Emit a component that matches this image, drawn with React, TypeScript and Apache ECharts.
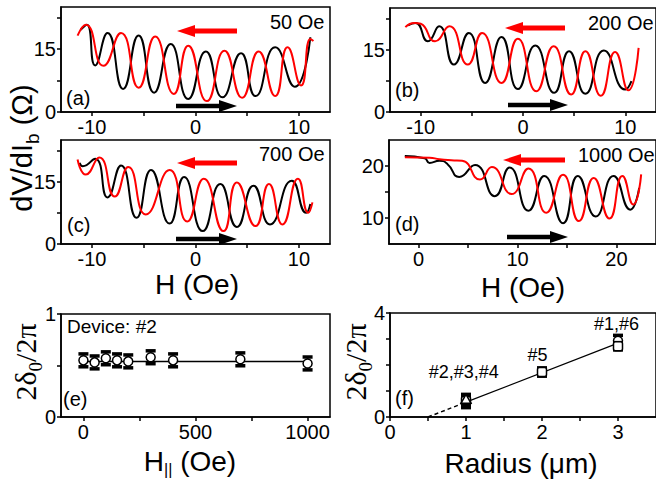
import React, { useEffect, useRef } from "react";
import * as echarts from "echarts";

const FONT = '"Liberation Sans", Arial, Helvetica, sans-serif';
const SERIF = '"Liberation Serif", "Times New Roman", serif';

// ---------- panel (a) 50 Oe ----------
const aBlack: [number, number][] = [
  [-11.1, 19.6], [-10.5, 20.8], [-9.7, 11.1], [-8.5, 18.8], [-7.0, 5.5], [-5.5, 18.2],
  [-4.0, 4.6], [-2.4, 16.2], [-0.7, 3.1], [1.0, 14.4], [2.6, 3.5], [4.4, 14.0],
  [5.8, 3.8], [7.7, 15.4], [9.6, 6.0], [11.1, 17.8],
];
const aRed: [number, number][] = [
  [-11.4, 18.2], [-10.6, 20.8], [-8.9, 11.0], [-7.2, 18.8], [-5.5, 5.8], [-3.9, 18.0],
  [-2.1, 4.3], [-0.7, 15.8], [1.1, 2.6], [2.8, 14.6], [4.5, 3.4], [6.1, 14.4],
  [7.7, 3.8], [8.9, 15.4], [10.2, 6.3], [11.1, 17.4], [11.4, 16.9],
];
// ---------- panel (b) 200 Oe ----------
const bBlack: [number, number][] = [
  [-11.25, 20.8], [-10.5, 21.4], [-9.3, 17.0], [-8.2, 20.6], [-6.75, 11.4], [-5.3, 19.0],
  [-3.7, 7.0], [-2.1, 18.0], [-0.5, 5.5], [1.2, 16.0], [3.05, 4.6], [4.5, 14.6],
  [6.1, 4.4], [7.9, 14.8], [10.0, 5.4], [10.6, 7.4],
];
const bRed: [number, number][] = [
  [-11.5, 20.4], [-10.6, 21.4], [-10.0, 21.2], [-8.6, 17.0], [-7.2, 20.6], [-5.4, 11.4],
  [-4.0, 19.0], [-2.1, 7.0], [-0.5, 17.6], [1.3, 5.0], [3.0, 15.8], [4.7, 4.2],
  [6.1, 14.6], [7.6, 3.9], [9.0, 14.4], [10.3, 5.2], [11.3, 15.4],
];
// ---------- panel (c) 700 Oe ----------
const cBlack: [number, number][] = [
  [-11.2, 19.5], [-10.9, 18.7], [-9.7, 20.5], [-8.5, 11.2], [-7.2, 18.9], [-5.7, 6.3],
  [-4.3, 17.8], [-2.5, 4.9], [-1.1, 16.1], [0.7, 3.1], [2.4, 14.4], [4.0, 4.1],
  [5.6, 14.0], [7.2, 4.7], [9.3, 15.2], [10.7, 7.5], [11.1, 9.6],
];
const cRed: [number, number][] = [
  [-11.4, 20.3], [-10.6, 16.7], [-9.3, 20.8], [-7.8, 11.4], [-6.5, 18.5], [-4.8, 7.1],
  [-2.5, 17.8], [-0.8, 5.4], [0.8, 15.7], [2.7, 3.1], [4.0, 14.8], [5.8, 4.3],
  [7.1, 14.4], [8.4, 4.7], [9.9, 15.7], [10.9, 7.5], [11.3, 10.0],
];
// ---------- panel (d) 1000 Oe ----------
const dBlack: [number, number][] = [
  [-1.4, 21.9], [0.6, 21.5], [1.1, 20.6], [2.1, 21.0], [2.9, 20.4], [4.1, 17.9],
  [5.7, 20.2], [7.7, 14.2], [9.2, 19.7], [11.1, 11.4], [12.7, 18.1], [14.6, 9.0],
  [16.1, 18.1], [17.9, 10.3], [19.7, 18.1], [21.4, 11.6], [22.3, 15.8],
];
const dRed: [number, number][] = [
  [-1.4, 21.7], [1.1, 21.6], [2.1, 21.3], [3.3, 21.1], [4.4, 21.0], [6.2, 17.4],
  [7.4, 19.8], [9.4, 14.6], [11.1, 19.5], [12.9, 11.0], [14.6, 18.3], [16.2, 9.4],
  [17.7, 17.7], [19.3, 9.9], [20.6, 18.1], [21.7, 12.6], [22.5, 18.4],
];
// ---------- panel (e) ----------
const eField = [0, 50, 100, 150, 200, 300, 400, 700, 1000];
const ePhase = [0.55, 0.53, 0.57, 0.55, 0.54, 0.58, 0.55, 0.56, 0.52];
const eErr = [0.065, 0.065, 0.065, 0.065, 0.065, 0.065, 0.065, 0.065, 0.065];
const eFit: [number, number][] = [[0, 0.54], [1000, 0.54]];
// ---------- panel (f) ----------
const fRadius = [1, 1, 1, 2, 3, 3];
const fPhase = [0.55, 0.62, 0.68, 1.73, 2.93, 2.72];
const fErr = [0.2, 0.2, 0.2, 0.17, 0.22, 0.15];
const fSymbol = ["circle", "rect", "triangle", "rect", "circle", "rect"];
const fFitDashed: [number, number][] = [[0.5, 0], [1, 0.57]];
const fFitSolid: [number, number][] = [[1, 0.57], [3, 2.84]];
const fNotes = ["#2,#3,#4", "#5", "#1,#6"];
const fNoteX = [0.97, 1.94, 2.98];
const fNoteY = [1.73, 2.4, 3.57];

// ---------- ticks ----------
const hTicks = [-10, -5, 0, 5, 10];
const hLabels = [-10, 0, 10];
const dTicks = [0, 5, 10, 15, 20];
const dLabels = [0, 10, 20];
const vTicks = [0, 7.5, 15, 22.5];
const vLabels = [0, 15];
const dvTicks = [10, 15, 20];
const dvLabels = [10, 20];
const eTicks = [0, 250, 500, 750, 1000];
const eLabels = [0, 500, 1000];
const eyTicks = [0, 0.5, 1];
const eyLabels = [0, 1];
const fTicks = [0, 0.5, 1, 1.5, 2, 2.5, 3];
const fLabels = [0, 1, 2, 3];
const fyTicks = [0, 1, 2, 3, 4];
const fyLabels = [0, 4];

const fieldTexts = ["50 Oe", "200 Oe", "700 Oe", "1000 Oe"];
const panelTags = ["(a)", "(b)", "(c)", "(d)", "(e)", "(f)"];

function axis(gridIndex: number, min: number, max: number, ticks: number[], labels: number[]) {
  return {
    type: "value",
    gridIndex,
    min,
    max,
    axisLine: { show: true, onZero: false, lineStyle: { color: "#000", width: 1.5 } },
    axisTick: { show: true, customValues: ticks, length: 4, lineStyle: { color: "#000", width: 1.5 } },
    axisLabel: {
      customValues: labels, color: "#000", fontSize: 20, fontFamily: FONT, margin: 5,
      formatter: (v: number) => String(v),
    },
    splitLine: { show: false },
  };
}

function curve(idx: number, data: [number, number][], color: string) {
  return {
    type: "line",
    xAxisIndex: idx,
    yAxisIndex: idx,
    data,
    showSymbol: false,
    smooth: 0.55,
    lineStyle: { color, width: 2 },
    itemStyle: { color },
    z: color === "#000" ? 2 : 3,
  };
}

function arrow(x1: number, x2: number, y: number, color: string, w: number) {
  const dir = x2 > x1 ? 1 : -1;
  const hl = 18;
  return {
    type: "group",
    children: [
      { type: "line", shape: { x1, y1: y, x2: x2 - dir * hl + dir * 2, y2: y }, style: { stroke: color, lineWidth: w } },
      { type: "polygon", shape: { points: [[x2, y], [x2 - dir * hl, y - 6], [x2 - dir * hl, y + 6]] }, style: { fill: color } },
    ],
  };
}

function txt(x: number, y: number, text: string, size: number, align = "left", extra: any = {}) {
  return {
    type: "text",
    x,
    y,
    ...extra,
    style: {
      text,
      fontSize: size,
      fontFamily: FONT,
      fill: "#000",
      align,
      verticalAlign: "middle",
      textAlign: align,
      textVerticalAlign: "middle",
      ...(extra.style || {}),
    },
  };
}

function errRender(symbols: string[] | null) {
  return (params: any, api: any) => {
    const x = api.value(0);
    const y = api.value(1);
    const err = api.value(2);
    const c = api.coord([x, y]);
    const hi = api.coord([x, y + err]);
    const lo = api.coord([x, y - err]);
    const sym = symbols ? symbols[params.dataIndex] : "circle";
    let marker: any;
    if (sym === "rect") {
      marker = { type: "rect", shape: { x: c[0] - 4.5, y: c[1] - 4.5, width: 9, height: 9, r: 2 }, style: { fill: "#fff", stroke: "#000", lineWidth: 1.5 } };
    } else if (sym === "triangle") {
      marker = { type: "polygon", shape: { points: [[c[0], c[1] - 5], [c[0] - 5, c[1] + 4], [c[0] + 5, c[1] + 4]] }, style: { fill: "#fff", stroke: "#000", lineWidth: 1.5 } };
    } else {
      marker = { type: "circle", shape: { cx: c[0], cy: c[1], r: 4.5 }, style: { fill: "#fff", stroke: "#000", lineWidth: 1.5 } };
    }
    return {
      type: "group",
      children: [
        { type: "line", shape: { x1: c[0], y1: hi[1], x2: c[0], y2: lo[1] }, style: { stroke: "#000", lineWidth: 1.5 } },
        { type: "rect", shape: { x: c[0] - 5, y: hi[1] - 1.5, width: 10, height: 3.5 }, style: { fill: "#000" } },
        { type: "rect", shape: { x: c[0] - 5, y: lo[1] - 2, width: 10, height: 3.5 }, style: { fill: "#000" } },
        marker,
      ],
    };
  };
}

export default function App() {
  const ref = useRef<HTMLDivElement>(null);
  useEffect(() => {
    if (!ref.current) return;
    const chart = echarts.init(ref.current, null, { renderer: "svg" });
    const gridStyle = { show: true, borderColor: "#000", borderWidth: 1.5, backgroundColor: "transparent" };
    const option: any = {
      animation: false,
      backgroundColor: "#fff",
      grid: [
        { left: 61, top: 7, width: 269, height: 105, ...gridStyle },
        { left: 390, top: 8, width: 269, height: 104, ...gridStyle },
        { left: 61, top: 140, width: 269, height: 104, ...gridStyle },
        { left: 389, top: 140, width: 269, height: 104, ...gridStyle },
        { left: 61, top: 314, width: 269, height: 103, ...gridStyle },
        { left: 390, top: 313, width: 271, height: 104, ...gridStyle },
      ],
      xAxis: [
        axis(0, -13, 13, hTicks, hLabels),
        axis(1, -13, 13, hTicks, hLabels),
        axis(2, -13, 13, hTicks, hLabels),
        axis(3, -3, 24, dTicks, dLabels),
        axis(4, -100, 1100, eTicks, eLabels),
        axis(5, 0, 3.5, fTicks, fLabels),
      ],
      yAxis: [
        axis(0, 0, 25, vTicks, vLabels),
        axis(1, 0, 25, vTicks, vLabels),
        axis(2, 0, 25, vTicks, vLabels),
        axis(3, 5, 25, dvTicks, dvLabels),
        axis(4, 0, 1, eyTicks, eyLabels),
        axis(5, 0, 4, fyTicks, fyLabels),
      ],
      series: [
        curve(0, aBlack, "#000"), curve(0, aRed, "#ff0000"),
        curve(1, bBlack, "#000"), curve(1, bRed, "#ff0000"),
        curve(2, cBlack, "#000"), curve(2, cRed, "#ff0000"),
        curve(3, dBlack, "#000"), curve(3, dRed, "#ff0000"),
        {
          type: "line", xAxisIndex: 4, yAxisIndex: 4, data: eFit, showSymbol: false,
          lineStyle: { color: "#000", width: 1.5 },
        },
        {
          type: "custom", xAxisIndex: 4, yAxisIndex: 4,
          data: eField.map((h, i) => [h, ePhase[i], eErr[i]]),
          renderItem: errRender(null), z: 5,
        },
        {
          type: "line", xAxisIndex: 5, yAxisIndex: 5, data: fFitDashed, showSymbol: false,
          lineStyle: { color: "#000", width: 1.5, type: [4, 3] },
        },
        {
          type: "line", xAxisIndex: 5, yAxisIndex: 5, data: fFitSolid, showSymbol: false,
          lineStyle: { color: "#000", width: 1.2 },
        },
        {
          type: "custom", xAxisIndex: 5, yAxisIndex: 5,
          data: fRadius.map((r, i) => [r, fPhase[i], fErr[i]]),
          renderItem: errRender(fSymbol), z: 5,
        },
        {
          type: "custom", xAxisIndex: 5, yAxisIndex: 5,
          data: fNoteX.map((x, i) => [x, fNoteY[i]]),
          renderItem: (params: any, api: any) => {
            const c = api.coord([api.value(0), api.value(1)]);
            return {
              type: "text", x: c[0], y: c[1],
              style: { text: fNotes[params.dataIndex], fontSize: 18, fontFamily: FONT, fill: "#000", align: "center", verticalAlign: "middle", textAlign: "center", textVerticalAlign: "middle" },
            };
          },
          z: 6,
        },
      ],
      graphic: [
        arrow(237, 177, 31, "#ff0000", 5),
        arrow(176, 237, 106, "#000", 4.5),
        arrow(565, 505, 28, "#ff0000", 5),
        arrow(508, 568, 105, "#000", 4.5),
        arrow(237, 177, 163, "#ff0000", 5),
        arrow(176, 237, 239, "#000", 4.5),
        arrow(565, 503, 160, "#ff0000", 5),
        arrow(507, 568, 237, "#000", 4.5),
        txt(270, 22, fieldTexts[0], 20),
        txt(588, 23, fieldTexts[1], 20),
        txt(259, 154, fieldTexts[2], 20),
        txt(578, 155, fieldTexts[3], 20),
        txt(66, 98, panelTags[0], 20),
        txt(395, 90, panelTags[1], 20),
        txt(67, 225, panelTags[2], 20),
        txt(395, 224, panelTags[3], 20),
        txt(63, 399, panelTags[4], 20),
        txt(395, 398, panelTags[5], 20),
        txt(67, 326, "Device: #2", 19),
        {
          type: "text", x: 23, y: 148, rotation: Math.PI / 2,
          style: {
            text: "{m|dV/dI}{s|b}{m| (Ω)}",
            align: "center", verticalAlign: "middle", textAlign: "center", textVerticalAlign: "middle",
            rich: {
              m: { fontSize: 29, fontFamily: FONT, fill: "#000", color: "#000", lineHeight: 32, verticalAlign: "top" },
              s: { fontSize: 19, fontFamily: FONT, fill: "#000", color: "#000", lineHeight: 20, padding: [16, 0, 0, 0], verticalAlign: "top" },
            },
          },
        },
        ...[[25, 362], [355, 362]].map(([x, y]) => ({
          type: "text", x, y, rotation: Math.PI / 2,
          style: {
            text: "{m|2δ}{s|0}{m|/2π}",
            align: "center", verticalAlign: "middle", textAlign: "center", textVerticalAlign: "middle",
            rich: {
              m: { fontSize: 30, fontFamily: SERIF, fill: "#000", color: "#000", lineHeight: 30, verticalAlign: "top" },
              s: { fontSize: 19, fontFamily: SERIF, fill: "#000", color: "#000", lineHeight: 18, padding: [16, 0, 0, 0], verticalAlign: "top" },
            },
          },
        })),
        txt(197, 284, "H (Oe)", 28, "center"),
        txt(523, 287, "H (Oe)", 28, "center"),
        {
          type: "text", x: 190, y: 462,
          style: {
            text: "{m|H}{s|||}{m| (Oe)}",
            align: "center", verticalAlign: "middle", textAlign: "center", textVerticalAlign: "middle",
            rich: {
              m: { fontSize: 28, fontFamily: FONT, fill: "#000", color: "#000", lineHeight: 30, verticalAlign: "top" },
              s: { fontSize: 16, fontFamily: FONT, fill: "#000", color: "#000", lineHeight: 16, padding: [14, 0, 0, 0], verticalAlign: "top" },
            },
          },
        },
        txt(521, 463, "Radius (μm)", 28, "center"),
      ],
    };
    chart.setOption(option);
    return () => chart.dispose();
  }, []);
  return (
    <div
      ref={ref}
      style={{ position: "fixed", left: 0, top: 0, width: 656, height: 483, background: "#fff" }}
    />
  );
}
